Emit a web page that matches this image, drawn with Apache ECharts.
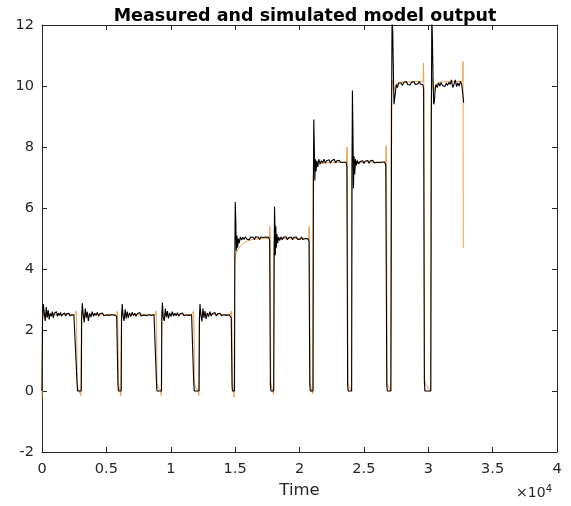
<!DOCTYPE html>
<html>
<head>
<meta charset="utf-8">
<script src="https://cdn.jsdelivr.net/npm/echarts@6/dist/echarts.min.js"></script>
<style>
html,body{margin:0;padding:0;background:#fff;}
#chart{width:571px;height:506px;}
</style>
</head>
<body>
<div id="chart"></div>
<script>
// ---- Data ----
const xTicks = [0, 5000, 10000, 15000, 20000, 25000, 30000, 35000, 40000];
const yTicks = [-2, 0, 2, 4, 6, 8, 10, 12];

// Measured output (black), per pulse: [time, value]
const m1 = [[0,0],[40,2.3],[100,2.85],[180,2.55],[250,2.3],[330,2.75],[400,2.4],[480,2.65],[560,2.35],[640,2.55],[720,2.45],[800,2.6],[880,2.4],[960,2.55],[1040,2.5],[1120,2.6],[1200,2.45],[1280,2.55],[1360,2.48],[1440,2.58],[1520,2.45],[1600,2.52],[1680,2.5],[1760,2.56],[1840,2.46],[1920,2.53],[2000,2.49],[2080,2.55],[2160,2.47],[2240,2.52],[2320,2.5],[2400,2.54],[2480,2.48],[2560,2.5],[2620,2.45],[2720,0.3],[2760,0],[3050,0]];
const m2 = [[3080,2.4],[3130,2.88],[3200,2.5],[3280,2.25],[3360,2.7],[3440,2.4],[3520,2.6],[3600,2.3],[3700,2.55],[3800,2.42],[3900,2.6],[4000,2.45],[4100,2.55],[4200,2.48],[4300,2.58],[4400,2.45],[4500,2.53],[4600,2.5],[4700,2.56],[4800,2.47],[4900,2.52],[5000,2.49],[5100,2.55],[5200,2.48],[5300,2.52],[5400,2.5],[5500,2.54],[5600,2.49],[5700,2.52],[5800,2.45],[5900,0.2],[5940,0],[6150,0]];
const m3 = [[6180,2.4],[6230,2.85],[6300,2.45],[6380,2.3],[6460,2.68],[6540,2.38],[6620,2.6],[6700,2.4],[6800,2.56],[6900,2.44],[7000,2.58],[7100,2.47],[7200,2.55],[7300,2.45],[7400,2.53],[7500,2.5],[7600,2.57],[7700,2.46],[7800,2.52],[7900,2.49],[8000,2.55],[8100,2.47],[8200,2.53],[8300,2.5],[8400,2.54],[8500,2.48],[8600,2.52],[8700,2.5],[8830,2.45],[8900,0.2],[8930,0],[9280,0]];
const m4 = [[9310,2.5],[9350,2.9],[9420,2.4],[9500,2.3],[9580,2.7],[9660,2.42],[9740,2.62],[9820,2.38],[9920,2.56],[10020,2.44],[10120,2.6],[10220,2.46],[10320,2.55],[10420,2.47],[10520,2.57],[10620,2.45],[10720,2.53],[10820,2.5],[10920,2.56],[11020,2.47],[11120,2.53],[11220,2.49],[11320,2.55],[11420,2.48],[11520,2.52],[11620,2.5],[11700,2.46],[11780,0.3],[11830,0],[12200,0]];
const m5 = [[12230,2.4],[12270,2.85],[12340,2.5],[12420,2.28],[12500,2.7],[12580,2.4],[12660,2.62],[12740,2.36],[12840,2.56],[12940,2.44],[13040,2.6],[13140,2.46],[13240,2.54],[13340,2.48],[13440,2.57],[13540,2.46],[13640,2.53],[13740,2.5],[13840,2.55],[13940,2.47],[14040,2.52],[14140,2.5],[14240,2.55],[14340,2.48],[14440,2.52],[14540,2.5],[14640,2.47],[14700,2.4],[14760,0.2],[14790,0],[14950,0]];
const m6 = [[14980,4.6],[15010,6.2],[15050,5.6],[15090,4.6],[15140,5.1],[15190,4.7],[15250,5.0],[15320,4.85],[15400,5.05],[15500,4.95],[15600,5.04],[15700,4.97],[15800,5.06],[15900,4.98],[16000,5.03],[16100,4.96],[16200,5.05],[16300,4.99],[16400,5.04],[16500,4.97],[16600,5.06],[16700,5.0],[16800,5.04],[16900,4.97],[17000,5.05],[17100,4.99],[17200,5.03],[17300,4.97],[17400,5.05],[17500,5.0],[17600,5.04],[17680,4.95],[17740,0.2],[17780,0],[18000,0]];
const m7 = [[18030,4.2],[18060,6.05],[18090,5.5],[18120,4.45],[18160,5.4],[18200,4.7],[18250,5.15],[18310,4.85],[18380,5.05],[18460,4.93],[18560,5.05],[18660,4.96],[18760,5.04],[18860,4.98],[18960,5.06],[19060,4.96],[19160,5.03],[19260,4.98],[19360,5.05],[19460,4.96],[19560,5.04],[19660,4.99],[19760,5.05],[19860,4.97],[19960,5.03],[20060,4.98],[20160,5.05],[20260,4.97],[20360,5.03],[20460,5.0],[20560,5.05],[20680,4.98],[20740,4.9],[20800,0.2],[20840,0],[21050,0]];
const m8 = [[21080,7.0],[21110,8.9],[21150,8.0],[21190,6.9],[21240,7.6],[21290,7.2],[21350,7.55],[21420,7.35],[21500,7.6],[21600,7.45],[21700,7.55],[21800,7.48],[21900,7.6],[22000,7.47],[22100,7.55],[22200,7.5],[22300,7.58],[22400,7.47],[22500,7.55],[22600,7.5],[22700,7.6],[22800,7.48],[22900,7.55],[23000,7.5],[23100,7.56],[23200,7.49],[23300,7.54],[23400,7.5],[23500,7.56],[23620,7.5],[23680,7.35],[23740,0.2],[23780,0],[24050,0]];
const m9 = [[24080,7.5],[24110,9.85],[24150,8.5],[24190,6.65],[24240,7.7],[24290,7.1],[24350,7.6],[24420,7.4],[24500,7.55],[24600,7.45],[24700,7.52],[24800,7.48],[24900,7.55],[25000,7.46],[25100,7.53],[25200,7.5],[25300,7.56],[25400,7.47],[25500,7.55],[25600,7.5],[25700,7.56],[25800,7.48],[25900,7.53],[26000,7.5],[26100,7.55],[26200,7.49],[26300,7.54],[26400,7.5],[26500,7.56],[26620,7.5],[26700,7.4],[26780,0.2],[26820,0],[27100,0]];
const m10 = [[27150,9.0],[27190,12.4],[27240,11.8],[27290,10.5],[27340,9.4],[27400,9.45],[27450,9.8],[27520,10.05],[27600,9.95],[27700,10.1],[27800,10.05],[27900,10.1],[28000,10.02],[28100,10.12],[28200,10.06],[28300,10.15],[28400,10.05],[28500,10.1],[28600,10.03],[28700,10.12],[28800,10.06],[28900,10.14],[29000,10.05],[29100,10.1],[29200,10.07],[29300,10.15],[29400,10.06],[29500,10.1],[29580,10.05],[29640,9.9],[29700,0.3],[29740,0],[30200,0]];
const m11 = [[30240,9.0],[30280,12.4],[30320,11.6],[30370,10.3],[30420,9.4],[30480,9.5],[30540,9.9],[30600,10.05],[30700,9.95],[30800,10.1],[30900,10.0],[31000,10.12],[31100,10.02],[31200,10.08],[31300,9.98],[31400,10.1],[31500,10.02],[31600,10.12],[31700,10.05],[31800,10.2],[31900,9.95],[32000,10.05],[32100,10.2],[32200,9.98],[32300,10.1],[32400,10.0],[32500,10.15],[32600,10.05],[32680,10.1],[32720,9.6],[32750,9.45]];

// Simulated model output (orange), per pulse: [time, value]
const s1 = [[0,-0.25],[30,2.3],[80,2.55],[160,2.45],[260,2.56],[360,2.47],[480,2.53],[600,2.49],[800,2.52],[1200,2.5],[1800,2.51],[2400,2.5],[2620,2.52],[2660,2.62],[2700,1.9],[2730,0.3],[2800,0.1],[2950,0.05],[3020,-0.15]];
const s2 = [[3060,2.3],[3110,2.58],[3200,2.45],[3300,2.56],[3420,2.47],[3560,2.53],[3700,2.49],[3900,2.52],[4400,2.5],[5000,2.51],[5600,2.5],[5820,2.52],[5860,2.62],[5900,1.9],[5930,0.3],[6000,0.1],[6100,0.05],[6130,-0.15]];
const s3 = [[6160,2.3],[6210,2.58],[6300,2.45],[6400,2.56],[6520,2.47],[6660,2.53],[6800,2.49],[7000,2.52],[7500,2.5],[8100,2.51],[8650,2.5],[8830,2.52],[8860,2.62],[8900,1.9],[8930,0.3],[9000,0.1],[9200,0.05],[9260,-0.15]];
const s4 = [[9290,2.3],[9340,2.58],[9430,2.45],[9530,2.56],[9650,2.47],[9790,2.53],[9930,2.49],[10130,2.52],[10600,2.5],[11200,2.51],[11600,2.5],[11740,2.52],[11770,2.62],[11810,1.9],[11840,0.3],[11900,0.1],[12100,0.05],[12180,-0.15]];
const s5 = [[12210,2.3],[12260,2.58],[12350,2.45],[12450,2.56],[12570,2.47],[12710,2.53],[12850,2.49],[13050,2.52],[13600,2.5],[14200,2.51],[14600,2.5],[14690,2.52],[14720,2.62],[14760,1.9],[14790,0.3],[14850,0.1],[14920,-0.2]];
const s6 = [[14960,4.3],[15050,4.5],[15200,4.62],[15400,4.75],[15700,4.86],[16000,4.93],[16400,4.97],[16900,4.99],[17400,5.0],[17670,5.0],[17700,5.4],[17730,4.8],[17770,0.3],[17850,0.1],[17980,-0.1]];
const s7 = [[18010,4.6],[18060,5.15],[18150,4.9],[18250,5.05],[18400,4.95],[18600,5.02],[19000,4.99],[19600,5.0],[20200,5.0],[20720,5.0],[20750,5.4],[20780,4.8],[20820,0.3],[20900,0.1],[21030,-0.1]];
const s8 = [[21060,7.0],[21120,7.25],[21300,7.35],[21600,7.44],[22000,7.48],[22600,7.5],[23200,7.5],[23660,7.5],[23690,8.0],[23720,7.3],[23760,0.3],[23850,0.15],[24030,0.0]];
const s9 = [[24060,7.3],[24110,7.7],[24200,7.4],[24350,7.55],[24600,7.47],[25000,7.52],[25600,7.5],[26200,7.5],[26700,7.52],[26730,8.05],[26760,7.3],[26800,0.3],[26900,0.15],[27080,0.0]];
const s10 = [[27120,9.4],[27200,10.2],[27300,9.85],[27450,10.0],[27650,10.1],[28000,10.12],[28600,10.14],[29200,10.15],[29600,10.15],[29630,10.75],[29660,10.0],[29700,0.4],[29800,0.2],[30180,0.0]];
const s11 = [[30220,9.3],[30300,10.25],[30400,9.85],[30550,10.0],[30800,10.12],[31200,10.14],[31800,10.15],[32400,10.15],[32680,10.15],[32700,10.8],[32720,4.7]];

const measured = [].concat(m1, m2, m3, m4, m5, m6, m7, m8, m9, m10, m11);
const simulated = [].concat(s1, s2, s3, s4, s5, s6, s7, s8, s9, s10, s11);

// ---- Chart ----
const FONT = 'DejaVu Sans';
const AX = '#262626';
const chart = echarts.init(document.getElementById('chart'), null, {renderer: 'canvas'});

const xBase = {
  type: 'value', min: xTicks[0], max: xTicks[xTicks.length - 1], interval: xTicks[1] - xTicks[0],
  splitLine: {show: false},
  axisLine: {show: true, onZero: false, lineStyle: {color: AX, width: 1}},
  axisTick: {show: true, inside: true, length: 5, lineStyle: {color: AX}}
};
const yBase = {
  type: 'value', min: yTicks[0], max: yTicks[yTicks.length - 1], interval: yTicks[1] - yTicks[0],
  splitLine: {show: false},
  axisLine: {show: true, onZero: false, lineStyle: {color: AX, width: 1}},
  axisTick: {show: true, inside: true, length: 5, lineStyle: {color: AX}}
};

chart.setOption({
  animation: false,
  backgroundColor: '#ffffff',
  title: {
    text: 'Measured and simulated model output',
    left: 300, top: 2, textAlign: 'center',
    textStyle: {fontFamily: FONT, fontWeight: 'bold', fontSize: 17.5, color: '#000'}
  },
  grid: {left: 42, right: 14, top: 25, bottom: 54, containLabel: false},
  xAxis: [
    Object.assign({}, xBase, {
      position: 'bottom',
      name: 'Time', nameLocation: 'middle', nameGap: 27,
      nameTextStyle: {fontFamily: FONT, fontSize: 16.5, color: AX},
      axisLabel: {show: true, margin: 10, fontFamily: FONT, fontSize: 14.5, color: AX,
        formatter: v => String(v / 10000)}
    }),
    Object.assign({}, xBase, {position: 'top', axisLabel: {show: false}})
  ],
  yAxis: [
    Object.assign({}, yBase, {
      position: 'left',
      axisLabel: {show: true, margin: 8, fontFamily: FONT, fontSize: 14.5, color: AX}
    }),
    Object.assign({}, yBase, {position: 'right', axisLabel: {show: false}})
  ],
  graphic: [{
    type: 'text', right: 19, top: 484,
    style: {
      text: '×10{sup|4}',
      rich: {sup: {fontSize: 10, verticalAlign: 'top', padding: [0, 0, 9, 0], fontFamily: FONT, fill: AX}},
      font: '14px "DejaVu Sans"', fill: AX
    }
  }],
  series: [
    {
      name: 'simulated', type: 'line', data: simulated, xAxisIndex: 0, yAxisIndex: 0,
      showSymbol: false, symbol: 'none', clip: true,
      lineStyle: {color: '#F0A04C', width: 1}, z: 2
    },
    {
      name: 'measured', type: 'line', data: measured, xAxisIndex: 0, yAxisIndex: 0,
      showSymbol: false, symbol: 'none', clip: true,
      lineStyle: {color: '#000000', width: 1.1}, z: 3
    }
  ]
});
</script>
</body>
</html>
